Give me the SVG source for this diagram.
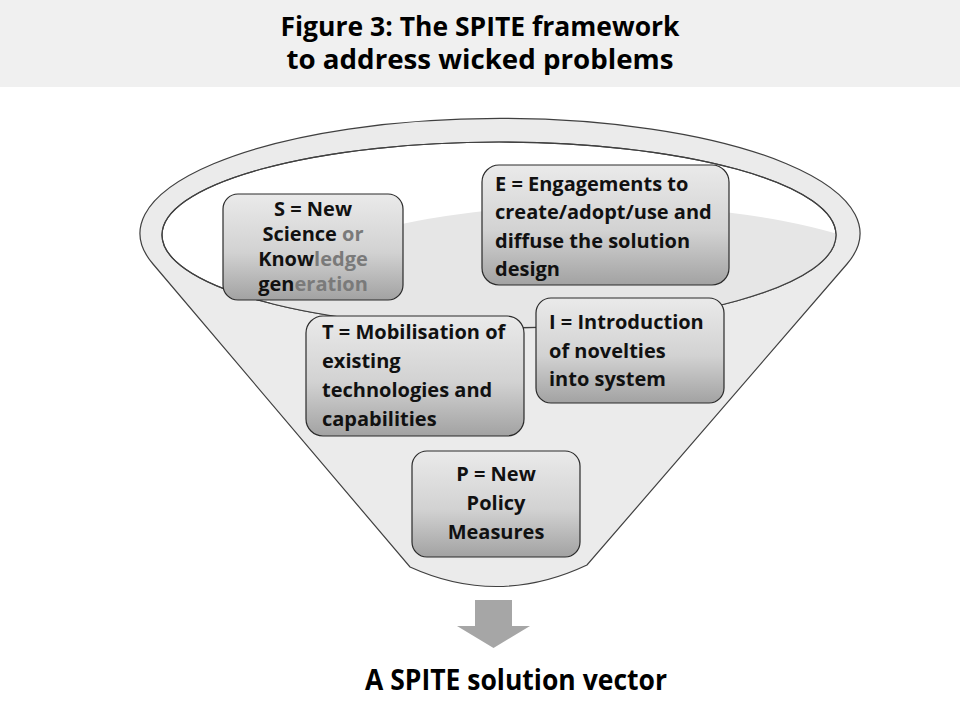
<svg xmlns="http://www.w3.org/2000/svg" width="960" height="720" viewBox="0 0 960 720">
<defs>
<linearGradient id="boxGrad" x1="0" y1="0" x2="0" y2="1">
<stop offset="0" stop-color="#eaeaea"/>
<stop offset="0.55" stop-color="#d2d2d2"/>
<stop offset="1" stop-color="#a2a2a2"/>
</linearGradient>
<clipPath id="innerClip"><ellipse cx="499" cy="235" rx="337" ry="93"/></clipPath>
<style>
.box{fill:url(#boxGrad);stroke:#2a2a2a;stroke-width:1.2}
.t{font-family:"Open Sans","Liberation Sans",sans-serif;font-weight:700;font-size:20px;fill:#111}
.c{text-anchor:middle}
.g{fill:#7a7a7a}
.title{font-family:"Open Sans","Liberation Sans",sans-serif;font-weight:700;font-size:26px;fill:#000;text-anchor:middle}
.result{font-family:"Open Sans","Liberation Sans",sans-serif;font-weight:700;font-size:28px;fill:#000;text-anchor:middle}
.line{fill:none;stroke:#404040;stroke-width:1.2}
</style>
</defs>
<rect x="0" y="0" width="960" height="720" fill="#ffffff"/>
<rect x="0" y="0" width="960" height="87" fill="#f0f0f0"/>
<text class="title" x="480" y="36" textLength="399" lengthAdjust="spacingAndGlyphs">Figure 3: The SPITE framework</text>
<text class="title" x="480" y="69" textLength="387" lengthAdjust="spacingAndGlyphs">to address wicked problems</text>

<g id="funnel">
<path d="M153,264 A360,115 0 1 1 847,264 L587,565 Q498,607 410,567 Z" fill="#ebebeb" stroke="#404040" stroke-width="1.2"/>
<ellipse cx="499" cy="235" rx="337" ry="93" fill="#ffffff" stroke="#404040" stroke-width="1.2"/>
<ellipse cx="600" cy="300" rx="330" ry="95" fill="#e6e6e6" clip-path="url(#innerClip)"/>
<ellipse cx="499" cy="235" rx="337" ry="93" class="line"/>
</g>

<g id="connectors">
<path d="M475,600 H512 V626 H530 L493.5,648 L457,626 H475 Z" fill="#a6a6a6"/>
</g>

<g id="node-s">
<rect class="box" x="223" y="194" width="180" height="106" rx="15"/>
<text class="t c" x="313" y="216">S = New</text>
<text class="t c" x="313" y="241">Science <tspan class="g">or</tspan></text>
<text class="t c" x="313" y="266">Know<tspan class="g">ledge</tspan></text>
<text class="t c" x="313" y="291">gen<tspan class="g">eration</tspan></text>
</g>

<g id="node-e">
<rect class="box" x="482" y="165" width="247" height="120" rx="17"/>
<text class="t" x="495" y="191">E = Engagements to</text>
<text class="t" x="495" y="219">create/adopt/use and</text>
<text class="t" x="495" y="248">diffuse the solution</text>
<text class="t" x="495" y="276">design</text>
</g>

<g id="node-t">
<rect class="box" x="306" y="316" width="218" height="120" rx="17"/>
<text class="t" x="322" y="339">T = Mobilisation of</text>
<text class="t" x="322" y="368">existing</text>
<text class="t" x="322" y="397">technologies and</text>
<text class="t" x="322" y="426">capabilities</text>
</g>

<g id="node-i">
<rect class="box" x="536" y="298" width="188" height="105" rx="15"/>
<text class="t" x="549" y="329">I = Introduction</text>
<text class="t" x="549" y="358">of novelties</text>
<text class="t" x="549" y="386">into system</text>
</g>

<g id="node-p">
<rect class="box" x="412" y="451" width="168" height="106" rx="15"/>
<text class="t c" x="496" y="481">P = New</text>
<text class="t c" x="496" y="510">Policy</text>
<text class="t c" x="496" y="539">Measures</text>
</g>

<g id="result">
<text class="result" x="516" y="690" textLength="302" lengthAdjust="spacingAndGlyphs">A SPITE solution vector</text>
</g>
</svg>
